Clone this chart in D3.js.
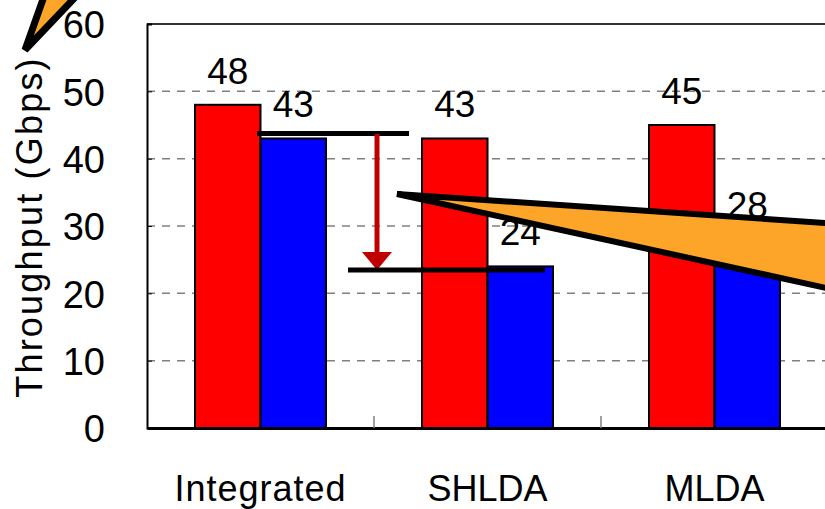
<!DOCTYPE html>
<html>
<head>
<meta charset="utf-8">
<script src="https://cdn.jsdelivr.net/npm/d3@7"></script>
<style>
  html, body { margin: 0; padding: 0; background: #fff; }
  svg { display: block; }
  text { font-family: "Liberation Sans", Arial, sans-serif; fill: #000; }
</style>
</head>
<body>
<svg id="chart" width="825" height="509"></svg>
<script>
// ---- data ----
const categories = ["Integrated", "SHLDA", "MLDA"];
const seriesNames = ["A", "B"];
const seriesA = [48, 43, 45];   // red
const seriesB = [43, 24, 28];   // blue
const yTicks = [0, 10, 20, 30, 40, 50, 60];
const colors = ["#ff0000", "#0000ff"];

// ---- layout ----
const W = 825, H = 509;
const mLeft = 147, mTop = 24, mBottom = 428;
const step = 227;

const svg = d3.select("#chart");

const x0 = d3.scaleBand().domain(categories).range([mLeft, mLeft + step * categories.length]).padding(0);
const x1 = d3.scaleBand().domain(seriesNames).range([48, 179]).padding(0);
const y = d3.scaleLinear().domain([0, 60]).range([mBottom, mTop]);

// gridlines
svg.append("g").selectAll("line")
  .data(yTicks.filter(d => d > 0 && d < 60))
  .join("line")
  .attr("x1", mLeft).attr("x2", W + 10)
  .attr("y1", d => y(d)).attr("y2", d => y(d))
  .attr("stroke", "#808080").attr("stroke-width", 1.5)
  .attr("stroke-dasharray", "8,7");

// frame top
svg.append("line").attr("x1", mLeft).attr("x2", W + 10)
  .attr("y1", y(60)).attr("y2", y(60)).attr("stroke", "#333").attr("stroke-width", 2);

// y axis
const yAxis = d3.axisLeft(y).tickValues(yTicks).tickSize(-5).tickPadding(42).tickFormat(d3.format("d"));
const yg = svg.append("g").attr("transform", `translate(${mLeft},0)`).call(yAxis);
yg.select(".domain").attr("stroke", "#000").attr("stroke-width", 2);
yg.selectAll(".tick line").attr("stroke", "#000").attr("stroke-width", 1);
yg.selectAll(".tick text").attr("font-size", 38).attr("font-family", "Liberation Sans, Arial, sans-serif")
  .attr("dy", "0.36em").attr("fill", "#000");

// y axis title
svg.append("text")
  .attr("transform", `translate(42,${(mTop + mBottom) / 2 + 1}) rotate(-90)`)
  .attr("text-anchor", "middle")
  .attr("font-size", 36)
  .attr("letter-spacing", 2.2)
  .text("Throughput (Gbps)");

// bars
const groups = svg.append("g").selectAll("g")
  .data(categories.map((c, i) => ({ c, vals: [seriesA[i], seriesB[i]] })))
  .join("g")
  .attr("transform", d => `translate(${x0(d.c)},0)`);

groups.selectAll("rect")
  .data(d => d.vals.map((v, j) => ({ s: seriesNames[j], v, j })))
  .join("rect")
  .attr("x", d => x1(d.s))
  .attr("width", x1.bandwidth())
  .attr("y", d => y(d.v))
  .attr("height", d => mBottom - y(d.v))
  .attr("fill", d => colors[d.j])
  .attr("stroke", "#000").attr("stroke-width", 2);

// value labels
groups.selectAll("text.val")
  .data(d => d.vals.map((v, j) => ({ s: seriesNames[j], v, j })))
  .join("text")
  .attr("class", "val")
  .attr("x", d => x1(d.s) + x1.bandwidth() / 2)
  .attr("y", d => y(d.v) - 21)
  .attr("text-anchor", "middle")
  .attr("font-size", 37)
  .text(d => d.v);

// x axis
const xg = svg.append("g").attr("transform", `translate(0,${mBottom})`)
  .call(d3.axisBottom(x0).tickSize(0).tickPadding(47));
xg.select(".domain").attr("stroke", "#000").attr("stroke-width", 3);
xg.selectAll(".tick text").attr("font-size", 36).attr("font-family", "Liberation Sans, Arial, sans-serif")
  .attr("fill", "#000").attr("letter-spacing", d => d === "Integrated" ? 1 : 0);
// category separator ticks (inside, upward)
svg.append("g").selectAll("line")
  .data(categories.slice(1))
  .join("line")
  .attr("x1", d => x0(d)).attr("x2", d => x0(d))
  .attr("y1", mBottom).attr("y2", mBottom - 12)
  .attr("stroke", "#808080").attr("stroke-width", 1.5);

// ---- annotations ----
const ann = svg.append("g");
// drop arrow
ann.append("line").attr("x1", 257).attr("x2", 409).attr("y1", 133.5).attr("y2", 133.5)
  .attr("stroke", "#000").attr("stroke-width", 5);
ann.append("line").attr("x1", 377).attr("x2", 377).attr("y1", 134).attr("y2", 256)
  .attr("stroke", "#c00000").attr("stroke-width", 5);
ann.append("path").attr("d", "M362,252 L392,252 L377,270 Z").attr("fill", "#c00000");
ann.append("line").attr("x1", 348).attr("x2", 545).attr("y1", 270).attr("y2", 270)
  .attr("stroke", "#000").attr("stroke-width", 5);

// orange wedges
ann.append("path").attr("d", "M397,194 L840,224 L840,291 Z")
  .attr("fill", "#fca528").attr("stroke", "#000").attr("stroke-width", 6).attr("stroke-linejoin", "miter");
ann.append("path").attr("d", "M25,50 L47,-12 L84,-12 Z")
  .attr("fill", "#fca528").attr("stroke", "#000").attr("stroke-width", 7).attr("stroke-linejoin", "miter");
</script>
</body>
</html>
